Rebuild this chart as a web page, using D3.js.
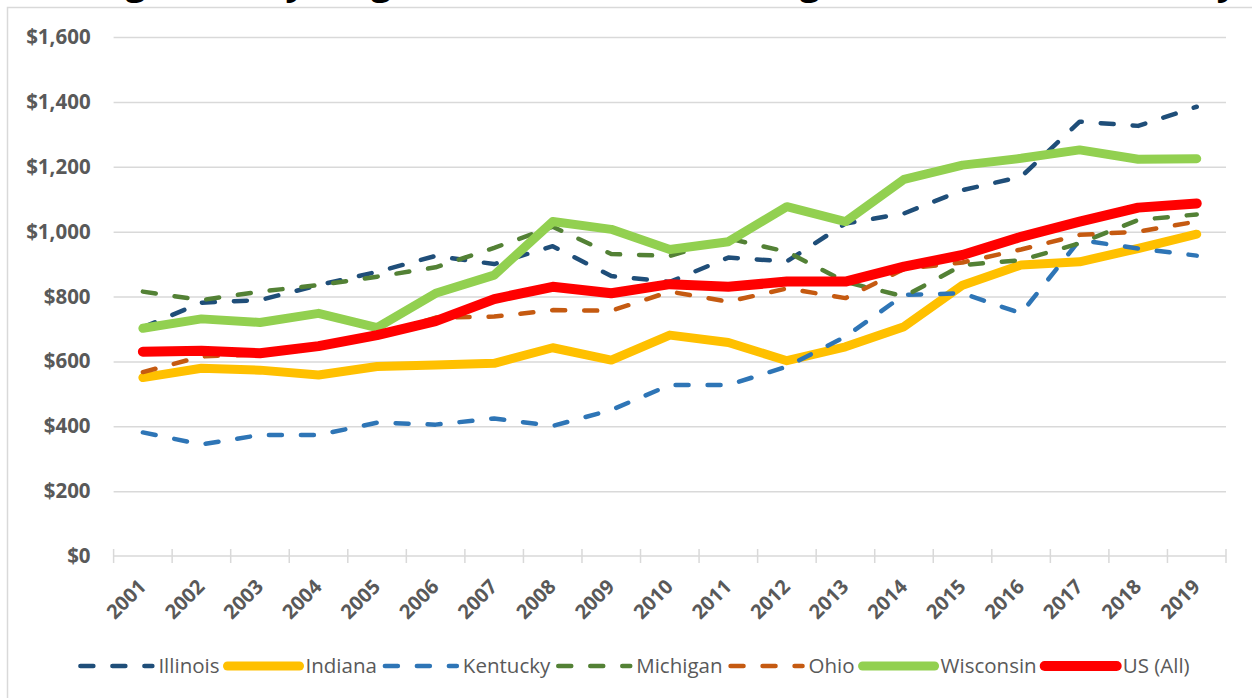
<!DOCTYPE html>
<head>
    <meta charset="utf-8">
    <title>Average weekly wages</title>
    <script src="https://d3js.org/d3.v7.min.js"></script>
    <style>
    body { margin: 0; background: #fff; }
    text { font-family: "Open Sans", sans-serif; }
    </style>
</head>
<body>
<script>
var years = ["2001","2002","2003","2004","2005","2006","2007","2008","2009","2010",
             "2011","2012","2013","2014","2015","2016","2017","2018","2019"];
var yTicks = [0, 200, 400, 600, 800, 1000, 1200, 1400, 1600];

var illinois  = [705,781,789,835,876,925,900,955,863,845,920,908,1025,1056,1128,1169,1339,1326,1385];
var indiana   = [550,579,573,558,584,589,594,642,604,681,658,602,645,707,835,897,907,948,992];
var kentucky  = [381,344,373,373,411,405,424,401,450,527,527,584,676,805,810,748,974,948,926];
var michigan  = [815,789,815,835,861,890,950,1015,931,925,979,938,845,800,897,912,964,1036,1053];
var ohio      = [567,615,622,645,680,735,738,758,756,815,784,825,795,885,905,945,990,1000,1031];
var wisconsin = [702,731,720,748,704,810,866,1031,1007,945,969,1077,1031,1161,1205,1226,1252,1223,1225];
var usAll     = [630,633,625,647,681,724,792,830,810,838,830,846,846,892,928,984,1031,1074,1087];

var series = [
    {name: "Illinois",  values: illinois,  color: "#1F4E79", dashed: true},
    {name: "Indiana",   values: indiana,   color: "#FFC000", dashed: false},
    {name: "Kentucky",  values: kentucky,  color: "#2E75B6", dashed: true},
    {name: "Michigan",  values: michigan,  color: "#538135", dashed: true},
    {name: "Ohio",      values: ohio,      color: "#C55A11", dashed: true},
    {name: "Wisconsin", values: wisconsin, color: "#92D050", dashed: false},
    {name: "US (All)",  values: usAll,     color: "#FF0000", dashed: false, heavy: true}
];

var width = 1252, height = 698;

var svg = d3.select("body").append("svg")
    .attr("width", width)
    .attr("height", height)
    .style("display", "block");

svg.append("rect")
    .attr("width", width).attr("height", height)
    .attr("fill", "#fff");

// title sits mostly above the page edge, as in the source picture
svg.append("text")
    .attr("x", 22)
    .attr("y", -5)
    .attr("textLength", 1215)
    .attr("lengthAdjust", "spacingAndGlyphs")
    .attr("font-size", 32)
    .attr("font-weight", "bold")
    .attr("fill", "#000")
    .text("Average Weekly Wages in the Skilled Nursing Care Facilities Industry");

// chart area border
svg.append("rect")
    .attr("x", 7.5).attr("y", 7.5)
    .attr("width", 1400).attr("height", 800)
    .attr("fill", "none")
    .attr("stroke", "#d9d9d9")
    .attr("stroke-width", 1.5);

var x = d3.scaleBand().domain(years).range([113.6, 1226]);
var y = d3.scaleLinear().domain([0, 1600]).range([556, 37]);

// gridlines + y labels
var yAxis = svg.append("g")
    .call(d3.axisLeft(y).tickValues(yTicks).tickSize(-(1226 - 113.6))
        .tickFormat(d3.format("$,")).tickPadding(23))
    .attr("transform", "translate(113.6,0)");
yAxis.select(".domain").remove();
yAxis.selectAll(".tick line")
    .attr("stroke", "#d9d9d9")
    .attr("stroke-width", 1.5)
    .filter(function(d) { return d === 0; }).remove();
yAxis.selectAll(".tick text")
    .attr("font-family", "Open Sans")
    .attr("font-size", 20.5)
    .attr("font-weight", "bold")
    .attr("fill", "#595959");

// category axis, ticks at band edges
var xAxis = svg.append("g");
xAxis.append("line")
    .attr("x1", x.range()[0]).attr("x2", x.range()[1])
    .attr("y1", y(0)).attr("y2", y(0))
    .attr("stroke", "#d9d9d9").attr("stroke-width", 1.5);
xAxis.selectAll("line.tk")
    .data(years.map(function(d) { return x(d); }).concat([x.range()[1]]))
    .enter().append("line")
    .attr("class", "tk")
    .attr("x1", function(d) { return d; }).attr("x2", function(d) { return d; })
    .attr("y1", y(0) - 7).attr("y2", y(0) + 7)
    .attr("stroke", "#d9d9d9").attr("stroke-width", 1.5);
xAxis.selectAll("text")
    .data(years)
    .enter().append("text")
    .attr("transform", function(d) {
        return "translate(" + (x(d) + x.bandwidth() / 2 + 4.5) + "," + (y(0) + 32) + ") rotate(-45)";
    })
    .attr("text-anchor", "end")
    .attr("font-size", 20)
    .attr("font-weight", "bold")
    .attr("fill", "#595959")
    .text(function(d) { return d; });

var line = d3.line()
    .x(function(d, i) { return x(years[i]) + x.bandwidth() / 2; })
    .y(function(d) { return y(d); });

function styleLine(sel) {
    sel.attr("fill", "none")
        .attr("stroke", function(d) { return d.color; })
        .attr("stroke-width", function(d) { return d.dashed ? 4.5 : (d.heavy ? 10 : 9); })
        .attr("stroke-dasharray", function(d) { return d.dashed ? "13,19" : null; })
        .attr("stroke-linecap", "round")
        .attr("stroke-linejoin", "round");
}

svg.append("g").selectAll("path")
    .data(series)
    .enter().append("path")
    .call(styleLine)
    .attr("d", function(d) { return line(d.values); });

// legend
var legend = svg.append("g").attr("transform", "translate(0,666)");
var items = legend.selectAll("g")
    .data(series)
    .enter().append("g");
items.append("path")
    .call(styleLine)
    .attr("d", "M0,0H72");
items.append("text")
    .attr("x", 78)
    .attr("dy", "0.35em")
    .attr("font-size", 20.5)
    .attr("fill", "#595959")
    .text(function(d) { return d.name; });

var pos = 0, offsets = [];
items.each(function() {
    offsets.push(pos);
    pos += 78 + d3.select(this).select("text").node().getComputedTextLength() + 8;
});
var start = 635 - (pos - 8) / 2;
items.attr("transform", function(d, i) { return "translate(" + (start + offsets[i]) + ",0)"; });
</script>
</body>
